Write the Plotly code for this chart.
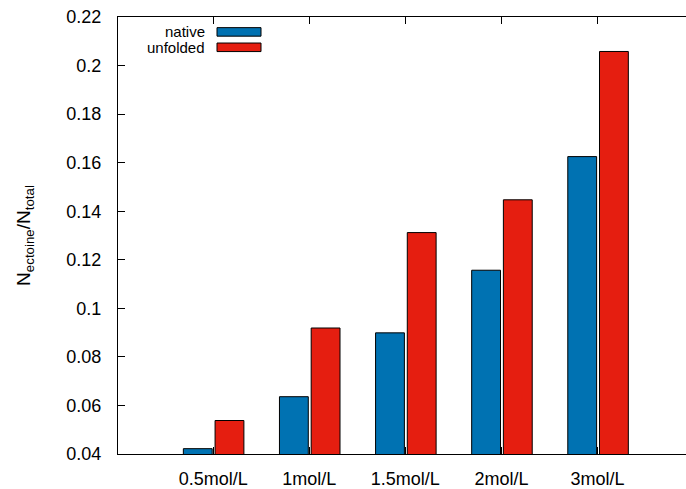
import plotly.graph_objects as go

categories = ["0.5mol/L", "1mol/L", "1.5mol/L", "2mol/L", "3mol/L"]
native = [0.0422, 0.0636, 0.0899, 0.1157, 0.1625]
unfolded = [0.0538, 0.0919, 0.1312, 0.1447, 0.2058]
series_names = ["native", "unfolded"]
series_colors = ["#0072b2", "#e51e10"]
y_ticks = [0.04, 0.06, 0.08, 0.10, 0.12, 0.14, 0.16, 0.18, 0.20, 0.22]
y_ticktext = ["0.04", "0.06", "0.08", "0.1", "0.12", "0.14", "0.16", "0.18", "0.2", "0.22"]

W, H = 686, 489
L, T, B, R = 118, 17, 32, 0
FONT = "Liberation Sans, Arial, sans-serif"

xpos = list(range(len(categories)))

fig = go.Figure()
for vals, name, col, off in [(native, series_names[0], series_colors[0], -0.31),
                             (unfolded, series_names[1], series_colors[1], 0.02)]:
    fig.add_trace(go.Bar(
        x=xpos, y=vals, name=name, width=0.30, offset=off,
        marker=dict(color=col, line=dict(color="#000000", width=1)),
        showlegend=False,
    ))

pw, ph = W - L - R, H - T - B


def px(xp):
    return (xp - L) / pw


def py(yp):
    return (H - B - yp) / ph


# custom gnuplot-style legend (text right, sample box left)
legend_rows = [(series_names[0], series_colors[0], 32), (series_names[1], series_colors[1], 47.5)]
for name, col, yc in legend_rows:
    fig.add_shape(type="rect", xref="paper", yref="paper",
                  x0=px(217), x1=px(261), y0=py(yc - 4.3), y1=py(yc + 4.3),
                  fillcolor=col, line=dict(color="#000000", width=1))
    fig.add_annotation(xref="paper", yref="paper", x=px(207), y=py(yc),
                       text=name, showarrow=False, xanchor="right", yanchor="middle",
                       font=dict(family=FONT, size=15, color="#000000"))

fig.update_layout(
    width=W, height=H,
    margin=dict(l=L, r=R, t=T, b=B, pad=0),
    paper_bgcolor="white", plot_bgcolor="white",
    barmode="overlay",
    font=dict(family=FONT, size=18, color="#000000"),
    xaxis=dict(
        range=[-0.99, 4.92], tickvals=xpos, ticktext=categories,
        ticks="inside", ticklen=7, tickcolor="#000000", tickwidth=1,
        showline=True, linecolor="#000000", linewidth=1, mirror="allticks",
        showgrid=False, zeroline=False, ticklabelstandoff=8,
        tickfont=dict(family=FONT, size=18),
    ),
    yaxis=dict(
        range=[0.04, 0.22], tickvals=y_ticks, ticktext=y_ticktext,
        ticks="inside", ticklen=7, tickcolor="#000000", tickwidth=1,
        showline=True, linecolor="#000000", linewidth=1, mirror=False,
        showgrid=False, zeroline=False, ticklabelstandoff=12,
        tickfont=dict(family=FONT, size=18),
        title=dict(text="N<sub>ectoine</sub>/N<sub>total</sub>",
                   font=dict(family=FONT, size=19), standoff=30),
    ),
)

fig.write_html("out.html")
